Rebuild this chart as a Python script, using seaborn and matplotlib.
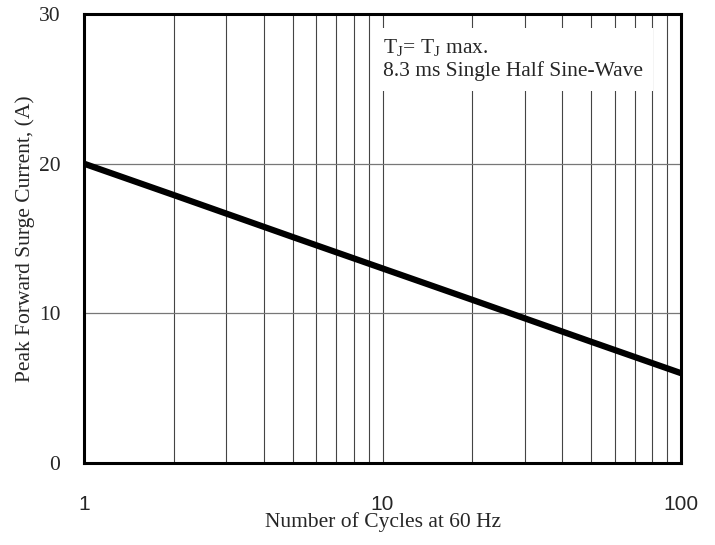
import numpy as np
import pandas as pd
import matplotlib
matplotlib.use("Agg")
import matplotlib.pyplot as plt
import seaborn as sns
from matplotlib.ticker import FixedLocator, NullFormatter

# values
cycles = [1, 2, 5, 10, 20, 50, 100]
surge_current = [20.0, 17.9, 15.1, 13.0, 10.9, 8.1, 6.0]
x_ticks = [1, 10, 100]
x_tick_labels = ["1", "10", "100"]
y_ticks = [0, 10, 20, 30]
minor_x = [2, 3, 4, 5, 6, 7, 8, 9, 20, 30, 40, 50, 60, 70, 80, 90]

df = pd.DataFrame({"cycles": cycles, "current": surge_current})

sns.set_style("white")
plt.rcParams["font.family"] = ["Liberation Serif", "DejaVu Serif"]
plt.rcParams["mathtext.fontset"] = "custom"
plt.rcParams["mathtext.rm"] = "Liberation Serif"

fig = plt.figure(figsize=(7.15, 5.45), dpi=100)
ax = fig.add_axes([0.1175, 0.1505, 0.835, 0.8238])

sns.lineplot(data=df, x="cycles", y="current", ax=ax, color="black",
             linewidth=4.5, solid_capstyle="butt")

ax.set_xscale("log")
ax.set_xlim(1, 100)
ax.set_ylim(0, 30)

ax.xaxis.set_major_locator(FixedLocator(x_ticks))
ax.xaxis.set_minor_locator(FixedLocator(minor_x))
ax.xaxis.set_minor_formatter(NullFormatter())
ax.set_xticklabels(x_tick_labels, family=["Liberation Sans", "DejaVu Sans"], fontsize=15)
ax.set_yticks(y_ticks)
ax.set_yticklabels([str(v) for v in y_ticks], fontsize=15.5)
ax.tick_params(axis="both", which="both", length=0)
ax.tick_params(axis="x", pad=23)
ax.tick_params(axis="y", pad=17)

ax.grid(True, which="both", axis="x", color="#444444", linewidth=0.8)
ax.grid(True, which="major", axis="y", color="#777777", linewidth=0.9)
ax.set_axisbelow(True)

for side in ax.spines.values():
    side.set_visible(True)
    side.set_color("black")
    side.set_linewidth(2.2)

ax.set_xlabel("Number of Cycles at 60 Hz", fontsize=15.5, labelpad=-1)
ax.set_ylabel("Peak Forward Surge Current, (A)", fontsize=15.5, labelpad=3)

ax.text(0.501, 0.947,
        "T$_\\mathregular{J}$= T$_\\mathregular{J}$ max.\n8.3 ms Single Half Sine-Wave",
        transform=ax.transAxes, ha="left", va="top", fontsize=15.5,
        linespacing=1.12,
        bbox=dict(facecolor="white", edgecolor="none", pad=7))

fig.savefig("out.png", dpi=100)
